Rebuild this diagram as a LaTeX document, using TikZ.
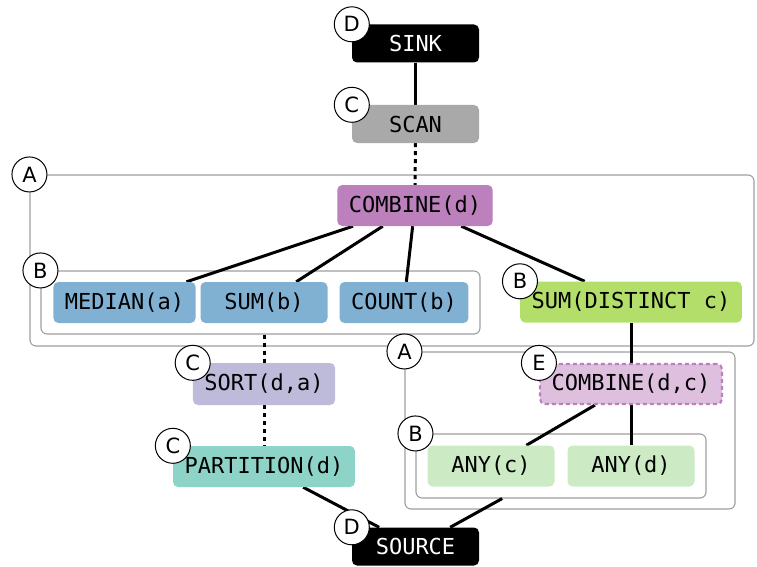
\documentclass[tikz,border=0pt]{standalone}
\usepackage{fontspec}
\setmainfont{DejaVu Sans}
\newfontfamily\opfont{DejaVu Sans Mono}
\usetikzlibrary{calc}

\definecolor{scangray}{HTML}{A9A9A9}
\definecolor{combinepurple}{HTML}{BC80BD}
\definecolor{combinelight}{HTML}{DEC0DE}
\definecolor{aggblue}{HTML}{80B1D3}
\definecolor{distinctgreen}{HTML}{B3DE69}
\definecolor{sortlav}{HTML}{BEBADA}
\definecolor{partteal}{HTML}{8DD3C7}
\definecolor{anygreen}{HTML}{CCEBC5}
\definecolor{grpgray}{HTML}{9E9E9E}

\pgfdeclarelayer{groups}
\pgfdeclarelayer{edges}
\pgfsetlayers{groups,edges,main}

\begin{document}
\begin{tikzpicture}[x=1pt,y=-1pt,
  op/.style={rounded corners=5pt, minimum height=40pt, minimum width=127pt,
    inner xsep=11.5pt, font=\opfont\fontsize{22}{26}\selectfont, text=black},
  grp/.style={draw=grpgray, line width=1.1pt, rounded corners=6pt, inner sep=0pt},
  badge/.style={circle, draw=black, fill=white, line width=1pt,
    minimum size=35pt, inner sep=0pt, font=\fontsize{21}{24}\selectfont},
  link/.style={line width=3pt},
  dotlink/.style={line width=3pt, dash pattern=on 4pt off 4pt}]

\useasboundingbox (0,0) rectangle (757,567);

% clusters
\begin{pgfonlayer}{groups}
  \node[grp, minimum width=724pt, minimum height=171pt] (gA1) at (392,260.5) {};
  \node[grp, minimum width=439pt, minimum height=63pt] (gB1) at (260.5,302.5) {};
  \node[grp, minimum width=330pt, minimum height=157pt] (gA2) at (570,430.5) {};
  \node[grp, minimum width=290pt, minimum height=64pt] (gB2) at (561,466) {};
\end{pgfonlayer}

% operators
\node[op, fill=black, text=white, minimum height=38pt] (sink) at (415.5,43.5) {SINK};
\node[op, fill=scangray, minimum height=38pt] (scan) at (415.5,124) {SCAN};
\node[op, fill=combinepurple, minimum height=41pt] (combd) at (415,205.5) {COMBINE(d)};
\node[op, fill=aggblue, minimum height=41pt] (median) at (124.5,302.5) {MEDIAN(a)};
\node[op, fill=aggblue, minimum height=41pt] (sumb) at (264,302.5) {SUM(b)};
\node[op, fill=aggblue, minimum height=41pt] (countb) at (404,302.5) {COUNT(b)};
\node[op, fill=distinctgreen, minimum height=41pt] (sumdist) at (631,302) {SUM(DISTINCT c)};
\node[op, fill=combinelight, draw=combinepurple, line width=2.2pt,
      dash pattern=on 4pt off 3pt, minimum height=40pt] (combdc) at (631,384) {COMBINE(d,c)};
\node[op, fill=anygreen, minimum height=41pt] (anyc) at (491,466) {ANY(c)};
\node[op, fill=anygreen, minimum height=41pt] (anyd) at (631,466) {ANY(d)};
\node[op, fill=sortlav, minimum height=42pt] (sort) at (264,384) {SORT(d,a)};
\node[op, fill=partteal, minimum height=41pt] (part) at (264,466.5) {PARTITION(d)};
\node[op, fill=black, text=white, minimum height=38pt] (source) at (415.5,546.5) {SOURCE};

% connectors
\begin{pgfonlayer}{edges}
  \draw[link] (sink) -- (scan);
  \draw[dotlink] (scan) -- (combd);
  \draw[link] (combd) -- (median);
  \draw[link] (combd) -- (sumb);
  \draw[link] (combd) -- (countb);
  \draw[link] (combd) -- (sumdist);
  \draw[dotlink] (sumb.south |- gB1.south) -- (sort);
  \draw[dotlink] (sort) -- (part);
  \draw[link] (part) -- (source);
  \draw[link] (sumdist) -- (combdc);
  \draw[link] (combdc) -- (anyc);
  \draw[link] (combdc) -- (anyd);
  \draw[link] (gB2) -- (source);
\end{pgfonlayer}

% badges
\node[badge] (bsink) at (sink.north west) {D};
\node[badge] (bscan) at (scan.north west) {C};
\node[badge] (bgA1) at (gA1.north west) {A};
\node[badge] (bgB1) at (gB1.north west) {B};
\node[badge] (bsumdist) at (sumdist.north west) {B};
\node[badge] (bgA2) at (gA2.north west) {A};
\node[badge] (bcombdc) at (combdc.north west) {E};
\node[badge] (bgB2) at (gB2.north west) {B};
\node[badge] (bsort) at (sort.north west) {C};
\node[badge] (bpart) at (part.north west) {C};
\node[badge] (bsource) at (source.north west) {D};

\end{tikzpicture}
\end{document}
